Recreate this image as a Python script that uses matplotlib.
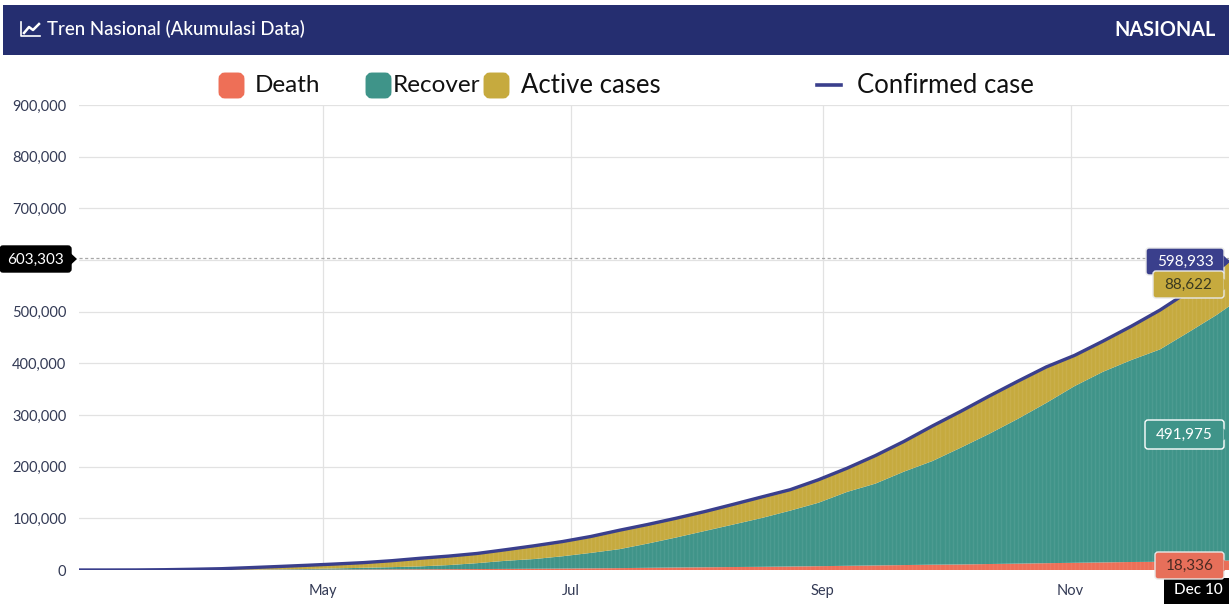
import matplotlib
matplotlib.use('Agg')
import matplotlib.pyplot as plt
import matplotlib.dates as mdates
import pandas as pd
from matplotlib.patches import FancyBboxPatch, Polygon, Rectangle

# about weekly from 2 Mar to 10 Dec
dates = list(pd.date_range('2020-03-02', '2020-12-07', freq='7D')) + [pd.Timestamp('2020-12-10')]
death = [0, 1, 5, 49, 122, 209, 399, 590, 765, 845, 1007, 1191, 1372, 1601, 1851, 2134,
         2465, 2805, 3241, 3656, 4239, 4838, 5302, 5765, 6150, 6759, 7417, 8130, 8841,
         9553, 10308, 10740, 11580, 12347, 13205, 13943, 14689, 15503, 15884, 16945,
         17867, 18336]
recover = [0, 2, 8, 30, 75, 192, 380, 747, 1151, 2197, 3287, 4324, 5642, 7935, 11414,
           15703, 18735, 23800, 29919, 36689, 46977, 58173, 70237, 82236, 94458, 108102,
           122802, 142958, 158405, 180797, 200500, 226000, 252000, 280000, 310000,
           342000, 369000, 391000, 411000, 443000, 476000, 491975]
active = [2, 16, 121, 500, 1217, 2090, 3778, 5423, 7180, 8545, 9971, 12495, 15736, 17404,
          18768, 21457, 25645, 28487, 31798, 36636, 36998, 37292, 37595, 39082, 40762,
          40551, 44577, 45901, 54277, 58502, 67914, 70380, 73136, 72893, 69729, 59459,
          59311, 65497, 76116, 78938, 87683, 88622]
confirmed = [2, 19, 134, 579, 1414, 2491, 4557, 6760, 9096, 11587, 14265, 18010, 22750,
             26940, 32033, 39294, 46845, 55092, 64958, 76981, 88214, 100303, 113134,
             127083, 141370, 155412, 174796, 196989, 221523, 248852, 278722, 307120,
             336716, 365240, 392934, 415402, 443000, 472000, 503000, 538883, 581550,
             598933]
y_ticks = [0, 100000, 200000, 300000, 400000, 500000, 600000, 700000, 800000, 900000]
month_ticks = ['2020-05-01', '2020-07-01', '2020-09-01', '2020-11-01']
cursor_value = 603303

NAVY = '#252e70'
LINE = '#3a3f8c'
RED = '#ee6f57'
TEAL = '#3f9489'
GOLD = '#c6aa3e'
W, H = 1229, 613

plt.rcParams['font.family'] = ['Lato', 'DejaVu Sans']
fig = plt.figure(figsize=(W / 100, H / 100), dpi=100)

# chart area, in pixels of the picture
ax = fig.add_axes([79 / W, (H - 570) / H, (W - 79) / W, 465 / H])
stacks = ax.stackplot(dates, death, recover, active, colors=[RED, TEAL, GOLD], linewidth=0, zorder=2)
# the original is daily bars, the gaps show as faint stripes
days = pd.date_range('2020-03-02', '2020-12-10', freq='D')
for poly in stacks:
    stripes = ax.vlines(days, 0, 900000, color='white', lw=1, alpha=0.07, zorder=2.5)
    stripes.set_clip_path(poly.get_paths()[0], poly.get_transform())
ax.plot(dates, confirmed, color=LINE, lw=2.4, zorder=3, solid_capstyle='butt')
ax.set_xlim(pd.Timestamp('2020-03-02'), pd.Timestamp('2020-12-10'))
ax.set_ylim(0, 900000)
ax.set_yticks(y_ticks)
# the cursor tag sits over the 600,000 label in the original
ax.set_yticklabels(['' if v == 600000 else '{:,}'.format(v) for v in y_ticks],
                   fontsize=10.5, color='#333a55')
ax.set_xticks([pd.Timestamp(m) for m in month_ticks])
ax.xaxis.set_major_formatter(mdates.DateFormatter('%b'))
ax.tick_params(axis='x', length=0, pad=10, labelsize=10.5, labelcolor='#333a55')
ax.tick_params(axis='y', length=0, pad=9)
ax.grid(True, color='#e2e2e2', lw=0.9, zorder=0)
ax.set_axisbelow(True)
for s in ax.spines.values():
    s.set_visible(False)
ax.axhline(cursor_value, color='#a8a8a8', lw=0.9, ls=(0, (2.5, 2)), zorder=4)

# overlay in pixel coordinates for header, legend and tags
ov = fig.add_axes([0, 0, 1, 1], zorder=5)
ov.set_xlim(0, W)
ov.set_ylim(H, 0)
ov.axis('off')
ov.patch.set_alpha(0)

ov.add_patch(Rectangle((3, 5), W - 3, 50, color=NAVY, lw=0))
ov.plot([21, 21, 40], [22, 36, 36], color='white', lw=1.2)
ov.plot([24, 29, 33, 39], [33, 27, 30, 24], color='white', lw=1.8)
ov.text(47, 29.5, 'Tren Nasional (Akumulasi Data)', color='white', fontsize=13.4,
        fontweight='medium', va='center')
ov.text(1216, 29.5, 'NASIONAL', color='white', fontsize=14.2, fontweight='bold',
        va='center', ha='right')


def swatch(x, color):
    ov.add_patch(FancyBboxPatch((x + 3, 76), 19, 19, boxstyle='round,pad=0,rounding_size=3',
                                mutation_aspect=1, fc=color, ec=color, lw=5))


swatch(219, RED)
swatch(366, TEAL)
swatch(484, GOLD)
ov.plot([817, 841], [85, 85], color=LINE, lw=2.6)
for x, label, size in [(255, 'Death', 17.5), (393, 'Recover', 17.5),
                       (521, 'Active cases', 18.5), (857, 'Confirmed case', 18.5)]:
    ov.text(x, 85.5, label, fontsize=size, color='#111111', va='center')


def tag(x0, x1, y0, y1, color, text, tcolor, edge='#e8e8e8', zorder=6):
    ov.add_patch(FancyBboxPatch((x0 + 3, y0 + 3), x1 - x0 - 6, y1 - y0 - 6,
                                boxstyle='round,pad=3,rounding_size=3', fc=color, ec=edge,
                                lw=1, zorder=zorder))
    ym = (y0 + y1) / 2
    ov.add_patch(Polygon([(x1 - 0.5, ym - 6), (x1 + 6, ym), (x1 - 0.5, ym + 6)], fc=color,
                         ec='none', zorder=zorder))
    ov.text((x0 + x1) / 2, ym + 0.5, text, color=tcolor, fontsize=11, ha='center', va='center',
            zorder=zorder + 1)


tag(0, 71, 246, 272, 'black', '{:,}'.format(cursor_value), 'white', edge='black')
tag(1146, 1224, 248, 275, LINE, '{:,}'.format(confirmed[-1]), 'white')
tag(1153, 1224, 271, 298, GOLD, '{:,}'.format(active[-1]), '#3a3a20', zorder=8)
tag(1145, 1224, 420, 449, TEAL, '{:,}'.format(recover[-1]), 'white', edge='white')
tag(1155, 1224, 552, 579, '#e76f5a', '{:,}'.format(death[-1]), '#4a2a22', zorder=8)

ov.add_patch(Rectangle((1164, 578), 65, 26, color='black', lw=0, zorder=7))
ov.text(1198, 589.5, 'Dec 10', color='white', fontsize=11, fontweight='medium',
        ha='center', va='center', zorder=9)

fig.savefig('out.png', dpi=100)
